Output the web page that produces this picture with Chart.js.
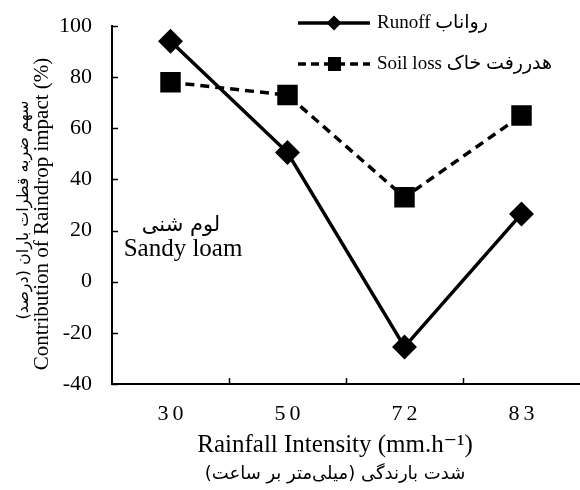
<!DOCTYPE html>
<html>
<head>
<meta charset="utf-8">
<script src="https://cdn.jsdelivr.net/npm/chart.js@4"></script>
<style>
  html, body { margin: 0; padding: 0; background: #fff; }
  #wrap { width: 580px; height: 490px; }
</style>
</head>
<body>
<div id="wrap"><canvas id="chart" width="580" height="490"></canvas></div>
<script>
// rainfall intensity categories (mm/h)
const intensities = ['30', '50', '72', '83'];
const runoff = [94, 50.5, -25.5, 26.5];
const soilLoss = [78, 73, 33, 65];
const yTicks = [-40, -20, 0, 20, 40, 60, 80, 100];

const SERIF = '"Liberation Serif", "Times New Roman", "DejaVu Sans", serif';
const FA = '"DejaVu Sans", sans-serif';

// inside tick marks, spaced x labels, titles, legend and the soil label
const decorPlugin = {
    id: 'decor',
    afterDraw(chart) {
        const ctx = chart.ctx;
        const x = chart.scales.x;
        const y = chart.scales.y;
        const area = chart.chartArea;
        ctx.save();
        ctx.strokeStyle = '#000';
        ctx.fillStyle = '#000';
        ctx.lineWidth = 1.5;

        // y ticks pointing inwards
        yTicks.forEach(v => {
            const py = Math.round(y.getPixelForValue(v)) + 0.5;
            ctx.beginPath();
            ctx.moveTo(area.left, py);
            ctx.lineTo(area.left + 6, py);
            ctx.stroke();
        });
        // x ticks between categories
        for (let i = 0; i < intensities.length - 1; i++) {
            const px = Math.round((x.getPixelForValue(i) + x.getPixelForValue(i + 1)) / 2) + 0.5;
            ctx.beginPath();
            ctx.moveTo(px, area.bottom);
            ctx.lineTo(px, area.bottom - 6);
            ctx.stroke();
        }

        ctx.textAlign = 'center';
        ctx.textBaseline = 'middle';

        // x category labels, letter spaced like the original
        ctx.font = '22px ' + SERIF;
        ctx.letterSpacing = '4px';
        intensities.forEach((lab, i) => {
            ctx.fillText(lab, x.getPixelForValue(i) + 2, area.bottom + 30);
        });
        ctx.letterSpacing = '0px';

        // x titles
        const cx = 335;
        ctx.font = '25px ' + SERIF;
        ctx.fillText('Rainfall Intensity (mm.h\u207B\u00B9)', cx, 445);
        ctx.font = '18px ' + FA;
        ctx.fillText('شدت بارندگی (میلی‌متر بر ساعت)', cx, 474);

        // y titles
        ctx.save();
        ctx.translate(24, 210);
        ctx.rotate(-Math.PI / 2);
        ctx.font = '16px ' + FA;
        ctx.fillText('سهم ضربه قطرات باران (درصد)', 0, 0);
        ctx.restore();
        ctx.save();
        ctx.translate(42, 214);
        ctx.rotate(-Math.PI / 2);
        ctx.font = '21px ' + SERIF;
        ctx.fillText('Contribution of Raindrop impact (%)', 0, 0);
        ctx.restore();

        // soil texture label
        ctx.font = '21px ' + FA;
        ctx.fillText('لوم شنی', 181, 226);
        ctx.font = '25px ' + SERIF;
        ctx.fillText('Sandy loam', 183, 249);

        // legend
        const rows = [
            { y: 23, dash: [], shape: 'diamond', label: 'Runoff رواناب' },
            { y: 64, dash: [8, 5], shape: 'square', label: 'Soil loss هدررفت خاک' }
        ];
        rows.forEach(r => {
            ctx.lineWidth = 3.5;
            ctx.setLineDash(r.dash);
            ctx.beginPath();
            ctx.moveTo(298, r.y);
            ctx.lineTo(370, r.y);
            ctx.stroke();
            ctx.setLineDash([]);
            ctx.beginPath();
            if (r.shape === 'diamond') {
                ctx.moveTo(334, r.y - 7.5);
                ctx.lineTo(341.5, r.y);
                ctx.lineTo(334, r.y + 7.5);
                ctx.lineTo(326.5, r.y);
                ctx.closePath();
            } else {
                ctx.rect(328, r.y - 7, 13, 14);
            }
            ctx.fill();
            ctx.textAlign = 'left';
            ctx.font = '19px ' + SERIF;
            ctx.fillText(r.label, 377, r.y);
        });
        ctx.restore();
    }
};

new Chart(document.getElementById('chart'), {
    type: 'line',
    data: {
        labels: intensities,
        datasets: [
            {
                label: 'Runoff',
                data: runoff,
                borderColor: '#000',
                backgroundColor: '#000',
                borderWidth: 3.5,
                pointStyle: 'rectRot',
                pointRadius: 10,
                pointHoverRadius: 10,
                tension: 0
            },
            {
                label: 'Soil loss',
                data: soilLoss,
                borderColor: '#000',
                backgroundColor: '#000',
                borderWidth: 3.5,
                borderDash: [9, 6],
                pointStyle: 'rect',
                pointRadius: 12,
                pointHoverRadius: 12,
                tension: 0
            }
        ]
    },
    options: {
        responsive: false,
        animation: false,
        layout: { autoPadding: false, padding: { top: 26, right: 0, left: 0, bottom: 0 } },
        plugins: {
            legend: { display: false },
            tooltip: { enabled: false }
        },
        scales: {
            x: {
                offset: true,
                grid: { display: false, drawTicks: false },
                border: { display: true, color: '#000', width: 2 },
                ticks: { display: false },
                afterFit(scale) {
                    scale.height = 106;
                    scale.paddingLeft = 0;
                    scale.paddingRight = 0;
                }
            },
            y: {
                min: -40,
                max: 100,
                grid: { display: false, drawTicks: false },
                border: { display: true, color: '#000', width: 2 },
                ticks: {
                    stepSize: 20,
                    color: '#000',
                    padding: 20,
                    font: { family: SERIF, size: 22 }
                },
                afterFit(scale) {
                    scale.width = 112;
                    scale.paddingTop = 0;
                    scale.paddingBottom = 0;
                }
            }
        }
    },
    plugins: [decorPlugin]
});
</script>
</body>
</html>
